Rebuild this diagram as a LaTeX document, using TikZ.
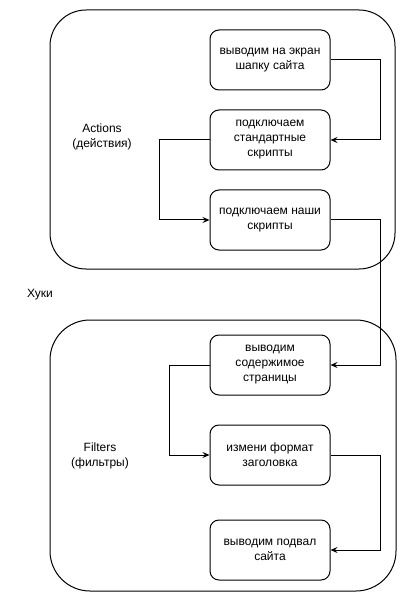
\documentclass[tikz,border=0pt]{standalone}
\usepackage{fontspec}
\setmainfont{Liberation Sans}
\usetikzlibrary{arrows.meta}
\begin{document}
\begin{tikzpicture}[x=1pt,y=-1pt,
  container/.style={draw,line width=1pt,rounded corners=36pt},
  stepbox/.style={draw,line width=1pt,rounded corners=9pt,minimum width=120pt,minimum height=60pt,align=center,font=\fontsize{12}{15}\selectfont,inner sep=0pt},
  lbl/.style={align=center,font=\fontsize{12}{15}\selectfont,inner sep=0pt},
  conn/.style={draw,line width=1pt,-{Stealth[length=7pt,width=6pt,inset=2.5pt]}}]
\useasboundingbox (0,0) rectangle (406,601);
\draw[container] (50,10) rectangle (395,269);
\draw[container,rounded corners=40pt] (50,320) rectangle (396,591);
\node[stepbox] (b1) at (270,60) {выводим на экран\\шапку сайта};
\node[stepbox] (b2) at (270,140) {подключаем\\стандартные\\скрипты};
\node[stepbox] (b3) at (270,220) {подключаем наши\\скрипты};
\node[stepbox] (b4) at (270,365) {выводим\\содержимое\\страницы};
\node[stepbox] (b5) at (270,455) {измени формат\\заголовка};
\node[stepbox] (b6) at (270,550) {выводим подвал\\сайта};
\node[lbl] (la) at (102,137) {Actions\\(действия)};
\node[lbl] (lf) at (100,456) {Filters\\(фильтры)};
\node[lbl] (lh) at (40,295) {Хуки};
\draw[conn] (b1.east) -- ++(50,0) |- (b2.east);
\draw[conn] (b2.west) -- ++(-50,0) |- (b3.west);
\draw[conn] (b3.east) -- ++(50,0) |- (b4.east);
\draw[conn] (b4.west) -- ++(-40,0) |- (b5.west);
\draw[conn] (b5.east) -- ++(50,0) |- (b6.east);
\end{tikzpicture}
\end{document}
